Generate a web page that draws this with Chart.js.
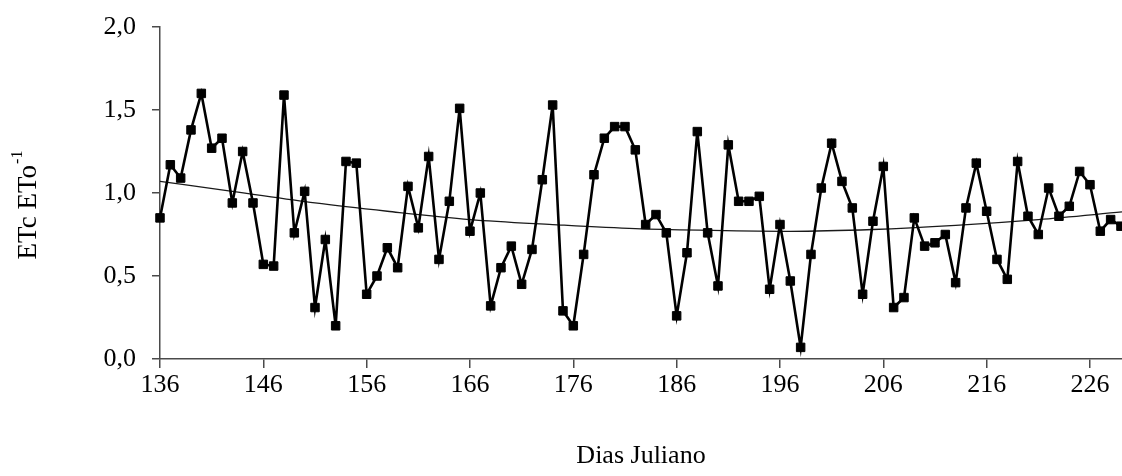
<!DOCTYPE html>
<html>
<head>
<meta charset="utf-8">
<script src="https://cdn.jsdelivr.net/npm/chart.js@4/dist/chart.umd.min.js"></script>
<style>
  html, body { margin: 0; padding: 0; background: #ffffff; }
  #wrap { width: 1122px; height: 476px; position: relative; }
</style>
</head>
<body>
<div id="wrap"><canvas id="c"></canvas></div>
<script>
// Julian days of the observations
const days = [
  136, 137, 138, 139, 140, 141, 142, 143, 144, 145,
  146, 147, 148, 149, 150, 151, 152, 153, 154, 155,
  156, 157, 158, 159, 160, 161, 162, 163, 164, 165,
  166, 167, 168, 169, 170, 171, 172, 173, 174, 175,
  176, 177, 178, 179, 180, 181, 182, 183, 184, 185,
  186, 187, 188, 189, 190, 191, 192, 193, 194, 195,
  196, 197, 198, 199, 200, 201, 202, 203, 204, 205,
  206, 207, 208, 209, 210, 211, 212, 213, 214, 215,
  216, 217, 218, 219, 220, 221, 222, 223, 224, 225,
  226, 227, 228, 229
];

// Daily crop coefficient ETc/ETo
const etcEto = [
  0.85, 1.17, 1.09, 1.38, 1.60, 1.27, 1.33, 0.94, 1.25, 0.94,
  0.57, 0.56, 1.59, 0.76, 1.01, 0.31, 0.72, 0.20, 1.19, 1.18,
  0.39, 0.50, 0.67, 0.55, 1.04, 0.79, 1.22, 0.60, 0.95, 1.51,
  0.77, 1.00, 0.32, 0.55, 0.68, 0.45, 0.66, 1.08, 1.53, 0.29,
  0.20, 0.63, 1.11, 1.33, 1.40, 1.40, 1.26, 0.81, 0.87, 0.76,
  0.26, 0.64, 1.37, 0.76, 0.44, 1.29, 0.95, 0.95, 0.98, 0.42,
  0.81, 0.47, 0.07, 0.63, 1.03, 1.30, 1.07, 0.91, 0.39, 0.83,
  1.16, 0.31, 0.37, 0.85, 0.68, 0.70, 0.75, 0.46, 0.91, 1.18,
  0.89, 0.60, 0.48, 1.19, 0.86, 0.75, 1.03, 0.86, 0.92, 1.13,
  1.05, 0.77, 0.84, 0.80
];

// Trend curve, sampled along its course
const trendDays   = [136, 143, 151, 158, 166, 174, 182, 189, 197, 205, 213, 221, 229.1];
const trendValues = [1.07, 1.01, 0.94, 0.89, 0.84, 0.81, 0.785, 0.775, 0.769, 0.78, 0.805, 0.84, 0.886];

// Axis tick labels
const xTicks = [136, 146, 156, 166, 176, 186, 196, 206, 216, 226];
const yTicks = [0, 0.5, 1.0, 1.5, 2.0];

const xTitle = 'Dias Juliano';
const yTitleMain = 'ETc ETo';
const yTitleSup = '-1';

const FONT = '"Liberation Serif", "Times New Roman", serif';
const AXIS_COLOR = '#4a4a4a';

const titlesPlugin = {
  id: 'axisTitles',
  afterDraw(chart) {
    const ctx = chart.ctx;
    const area = chart.chartArea;
    ctx.save();
    ctx.fillStyle = '#000000';
    // x axis title
    ctx.font = '26px ' + FONT;
    ctx.textAlign = 'center';
    ctx.textBaseline = 'middle';
    ctx.fillText(xTitle, (area.left + area.right) / 2, 456);
    // y axis title with superscript
    ctx.translate(29, 0);
    ctx.rotate(-Math.PI / 2);
    ctx.textAlign = 'left';
    ctx.textBaseline = 'middle';
    ctx.font = '27px ' + FONT;
    const mainW = ctx.measureText(yTitleMain).width;
    ctx.font = '16px ' + FONT;
    const supW = ctx.measureText(yTitleSup).width;
    const total = mainW + supW + 1;
    const centerY = 205;
    const start = -centerY - total / 2;
    ctx.font = '27px ' + FONT;
    ctx.fillText(yTitleMain, start, 0);
    ctx.font = '16px ' + FONT;
    ctx.fillText(yTitleSup, start + mainW + 1, -11);
    ctx.restore();
  }
};

new Chart(document.getElementById('c'), {
  type: 'line',
  data: {
    datasets: [
      {
        label: 'ETc/ETo',
        data: days.map((d, i) => ({ x: d, y: etcEto[i] })),
        borderColor: '#000000',
        backgroundColor: '#000000',
        borderWidth: 2.6,
        pointStyle: 'rect',
        pointRadius: 6,
        pointBorderWidth: 1,
        pointBackgroundColor: '#000000',
        pointBorderColor: '#000000',
        tension: 0,
        clip: false,
        order: 1
      },
      {
        label: 'Tendência',
        data: trendDays.map((d, i) => ({ x: d, y: trendValues[i] })),
        borderColor: '#1a1a1a',
        borderWidth: 1.3,
        pointRadius: 0,
        cubicInterpolationMode: 'monotone',
        fill: false,
        order: 2
      }
    ]
  },
  options: {
    responsive: true,
    maintainAspectRatio: false,
    animation: false,
    devicePixelRatio: 1,
    layout: { autoPadding: false, padding: { top: 27, left: 0, right: 0, bottom: 0 } },
    plugins: {
      legend: { display: false },
      tooltip: { enabled: false }
    },
    scales: {
      x: {
        type: 'linear',
        min: 136,
        max: 229.1,
        afterBuildTicks(scale) {
          scale.ticks = xTicks.map(v => ({ value: v }));
        },
        afterFit(scale) {
          scale.height = 117;
          scale.paddingLeft = 0;
          scale.paddingRight = 0;
        },
        border: { display: true, color: AXIS_COLOR, width: 1.5 },
        grid: { display: true, drawOnChartArea: false, drawTicks: true, tickLength: 9, color: AXIS_COLOR, lineWidth: 1.5 },
        ticks: {
          color: '#000000',
          font: { family: FONT, size: 26 },
          padding: 2,
          maxRotation: 0,
          autoSkip: false,
          callback: v => String(v)
        }
      },
      y: {
        min: 0,
        max: 2,
        afterBuildTicks(scale) {
          scale.ticks = yTicks.map(v => ({ value: v }));
        },
        afterFit(scale) {
          scale.width = 160;
          scale.paddingTop = 0;
          scale.paddingBottom = 0;
        },
        border: { display: true, color: AXIS_COLOR, width: 1.5 },
        grid: { display: true, drawOnChartArea: false, drawTicks: true, tickLength: 8, color: AXIS_COLOR, lineWidth: 1.5 },
        ticks: {
          color: '#000000',
          font: { family: FONT, size: 26 },
          padding: 16,
          callback: v => Number(v).toFixed(1).replace('.', ',')
        }
      }
    }
  },
  plugins: [titlesPlugin]
});
</script>
</body>
</html>
